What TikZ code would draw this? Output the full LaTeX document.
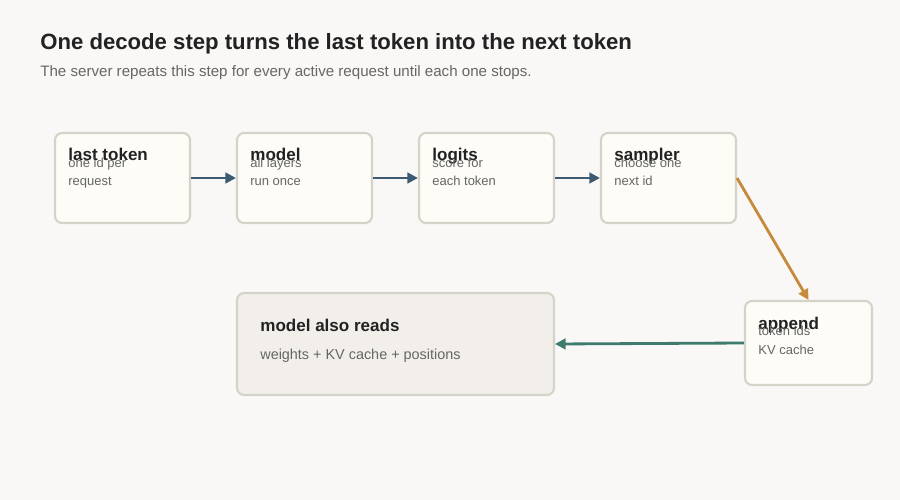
\documentclass[tikz,border=0pt]{standalone}
\usepackage{fontspec}
\setmainfont{Liberation Sans}
\usetikzlibrary{positioning, arrows.meta}
\definecolor{bgcol}{HTML}{F9F8F7}
\definecolor{boxfill}{HTML}{FDFCF7}
\definecolor{boxline}{HTML}{D5D2C8}
\definecolor{notefill}{HTML}{F2EFEA}
\definecolor{inkcol}{HTML}{222222}
\definecolor{subcol}{HTML}{666666}
\definecolor{flowcol}{HTML}{3E5A73}
\definecolor{turncol}{HTML}{C68A3C}
\definecolor{backcol}{HTML}{3F7B6D}
\tikzset{
  stepbox/.style={draw=boxline, fill=boxfill, line width=1.2pt, rounded corners=4pt,
    minimum width=2.7cm, minimum height=1.8cm, inner sep=0pt},
  notebox/.style={stepbox, fill=notefill, minimum width=6.34cm, minimum height=2.04cm},
  boxtitle/.style={anchor=base west, inner sep=0pt, text=inkcol, font=\fontsize{9.7}{11}\selectfont\bfseries},
  boxtext/.style={anchor=base west, inner sep=0pt, text=subcol, align=left,
    font=\fontsize{7.4}{10.6}\selectfont},
  flow/.style={-{Triangle[length=6pt,width=6pt]}, line width=1.6pt}
}
\begin{document}
\begin{tikzpicture}[x=0.02cm, y=-0.02cm]
\fill[bgcol] (0,0) rectangle (900,500);
\useasboundingbox (0,0) rectangle (900,500);

% Heading
\node (title) [anchor=base west, inner sep=0pt, text=inkcol, font=\fontsize{12.6}{14}\selectfont\bfseries]
  at (40,50) {One decode step turns the last token into the next token};
\node (sub) [anchor=base west, inner sep=0pt, text=subcol, font=\fontsize{8.6}{10}\selectfont]
  at (40,77) {The server repeats this step for every active request until each one stops.};

% Decode steps
\node (last)    [stepbox] at (122.5,178) {};
\node (model)   [stepbox] at (304.5,178) {};
\node (logits)  [stepbox] at (486.5,178) {};
\node (sampler) [stepbox] at (668.5,178) {};
\node (append)  [stepbox, minimum width=2.54cm, minimum height=1.68cm] at (808.5,343) {};
\node (reads)   [notebox] at (395.5,344) {};

% Box texts
\node (lastT)    [boxtitle] at (68,161) {last token};
\node (lastB)    [boxtext]  at (68,186) {one id per\\request};
\node (modelT)   [boxtitle] at (250,161) {model};
\node (modelB)   [boxtext]  at (250,186) {all layers\\run once};
\node (logitsT)  [boxtitle] at (432,161) {logits};
\node (logitsB)  [boxtext]  at (432,186) {score for\\each token};
\node (samplerT) [boxtitle] at (614,161) {sampler};
\node (samplerB) [boxtext]  at (614,186) {choose one\\next id};
\node (appendT)  [boxtitle] at (758,329) {append};
\node (appendB)  [boxtext]  at (758,354) {token ids\\KV cache};
\node (readsT)   [boxtitle] at (260,331) {model also reads};
\node (readsB)   [boxtext, font=\fontsize{8.2}{10}\selectfont] at (260,359) {weights + KV cache + positions};

% Connectors
\draw[flow, flowcol] (last) -- (model);
\draw[flow, flowcol] (model) -- (logits);
\draw[flow, flowcol] (logits) -- (sampler);
\draw[flow, turncol] (sampler.east) -- (append.north);
\draw[flow, backcol] (append.west) -- (reads.east);
\end{tikzpicture}
\end{document}
